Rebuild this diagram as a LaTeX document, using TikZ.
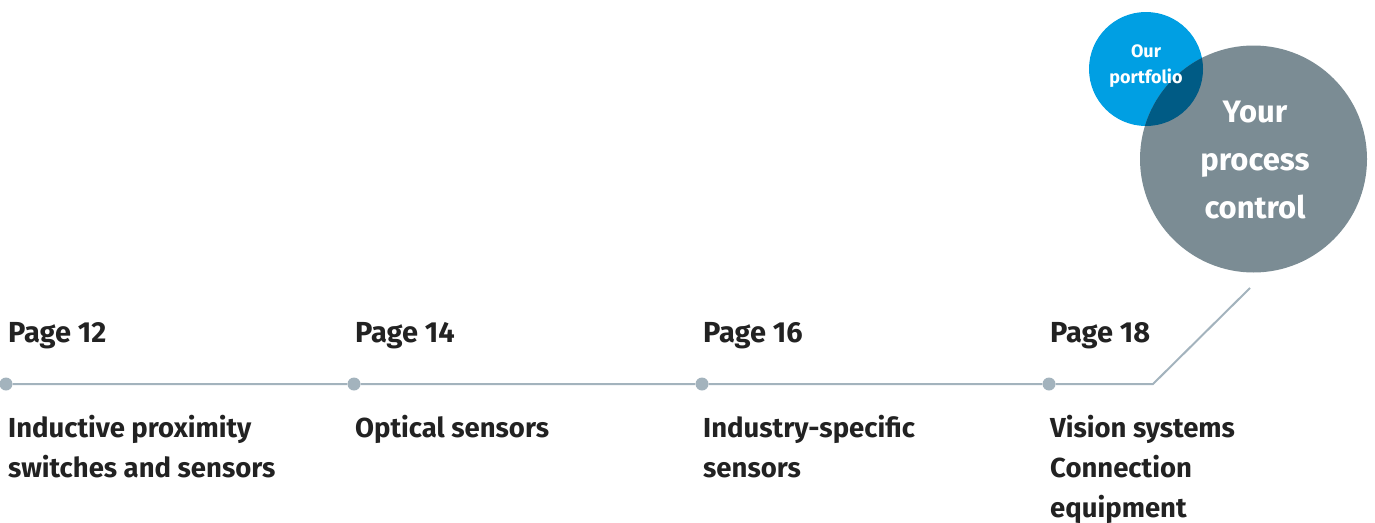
\documentclass[tikz,border=0pt]{standalone}
\usepackage{fontspec}
\setmainfont{Fira Sans}
\definecolor{pblue}{HTML}{009FE3}
\definecolor{pgray}{HTML}{7B8C94}
\definecolor{pdark}{HTML}{005B85}
\definecolor{pline}{HTML}{A3B3BD}
\definecolor{ptext}{HTML}{222222}
\tikzset{
  dot/.style={circle, fill=pline, inner sep=0pt, minimum size=13pt},
  tl/.style={line width=2pt, draw=pline},
  pagelbl/.style={anchor=base west, inner sep=0pt, text=ptext, font=\bfseries\fontsize{29}{40}\selectfont},
  desclbl/.style={anchor=north west, inner sep=0pt, align=left, text=ptext, font=\bfseries\fontsize{27.5}{40}\selectfont},
}
\begin{document}
\begin{tikzpicture}[x=1pt,y=-1pt]
\useasboundingbox (0,0) rectangle (1375,522);
% circles
\fill[pblue] (1146,69) circle[radius=57];
\fill[pgray] (1253.5,159) circle[radius=113.5];
\begin{scope}
  \clip (1146,69) circle[radius=57];
  \fill[pdark] (1253.5,159) circle[radius=113.5];
\end{scope}
\node[inner sep=0pt, align=center, text=white, font=\bfseries\fontsize{18}{26}\selectfont] (our) at (1146,66) {Our\\portfolio};
\node[inner sep=0pt, align=center, text=white, font=\bfseries\fontsize{31}{48}\selectfont] (your) at (1255,160) {Your\\process\\control};
% timeline
\node[dot] (d1) at (6,384) {};
\node[dot] (d2) at (354,384) {};
\node[dot] (d3) at (702,384) {};
\node[dot] (d4) at (1049,384) {};
\coordinate (bend) at (1153,384);
\coordinate (tip) at (1250,288);
\draw[tl] (d1) -- (d2) -- (d3) -- (d4) -- (bend) -- (tip);
% labels
\node[pagelbl] (p1) at (8,342) {Page 12};
\node[pagelbl] (p2) at (355,342) {Page 14};
\node[pagelbl] (p3) at (703,342) {Page 16};
\node[pagelbl] (p4) at (1050,342) {Page 18};
\node[desclbl] (t1) at (8,415) {Inductive proximity\\switches and sensors};
\node[desclbl] (t2) at (355,415) {Optical sensors};
\node[desclbl] (t3) at (703,415) {Industry-specific\\sensors};
\node[desclbl] (t4) at (1050,415) {Vision systems\\Connection\\equipment};
\end{tikzpicture}
\end{document}
